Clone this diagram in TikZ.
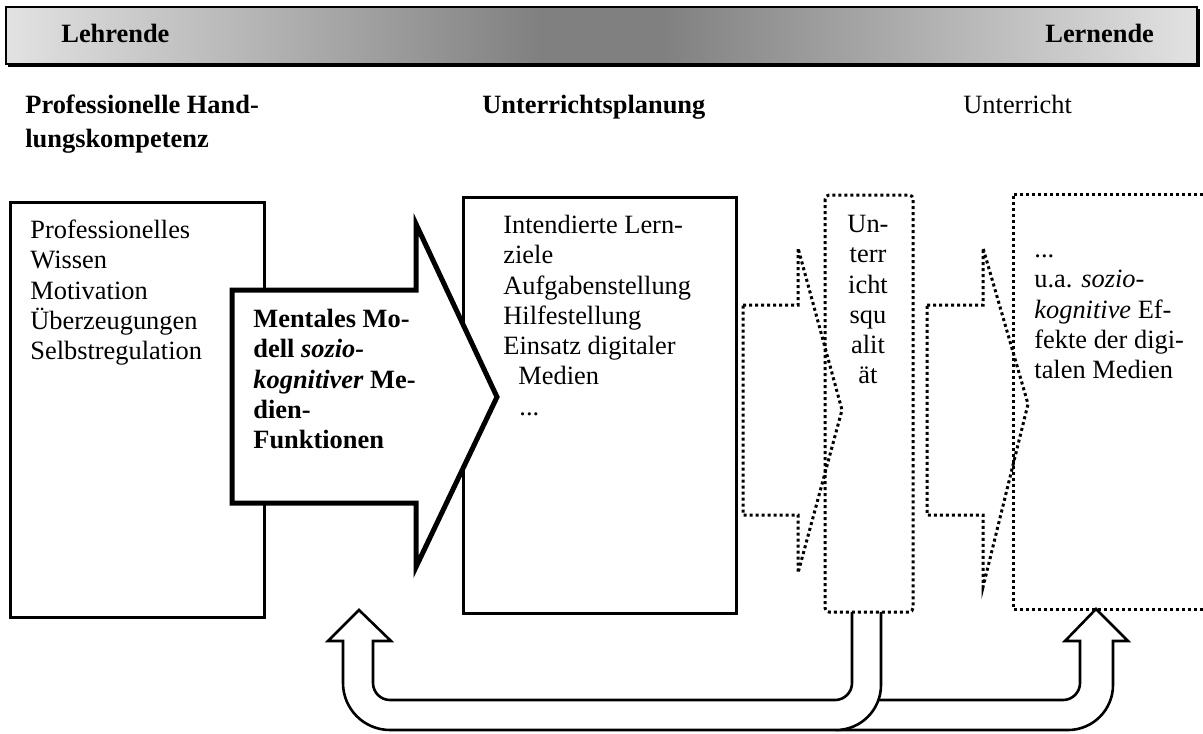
\documentclass[tikz,border=0pt]{standalone}
\usepackage{fontspec}
\setmainfont{Liberation Serif}
\newcommand{\fs}{\fontsize{13.2}{15.15}\selectfont}
\newcommand{\fsh}{\fontsize{13.2}{17}\selectfont}
\definecolor{baredge}{RGB}{226,226,226}
\definecolor{barmid}{RGB}{128,128,128}
\begin{document}
\begin{tikzpicture}[x=0.5pt,y=-0.5pt,
  txt/.style={inner sep=0pt, anchor=north west, align=left, font=\fs},
  solidbox/.style={draw, line width=1.5pt, fill=white},
  bigarrow/.style={draw, line width=2.5pt, fill=white, line join=miter},
  dotline/.style={line width=1.5pt, dash pattern=on 1.5pt off 1.5pt},
  uarrow/.style={draw, line width=1.3pt, fill=white, line join=miter}]
\useasboundingbox (0,0) rectangle (1203,733);

% top bar
\draw[line width=1.4pt] (8,65.5) -- (1198.5,65.5) -- (1198.5,9);
\shade[left color=baredge, right color=barmid] (6,7) rectangle (541,64);
\fill[barmid] (540,7) rectangle (661,64);
\shade[left color=barmid, right color=baredge] (660,7) rectangle (1197,64);
\draw[line width=0.9pt] (6,7) rectangle (1197,64);
\node[txt, font=\fs\bfseries] (lehrende) at (61,20.8) {\strut Lehrende};
\node[txt, font=\fs\bfseries] (lernende) at (1045,20.8) {\strut Lernende};

% headers
\node[txt, font=\fsh\bfseries] (hdrkomp) at (25,89.2) {\strut Professionelle Hand-\\lungskompetenz};
\node[txt, font=\fs\bfseries] (hdrplan) at (482,91.8) {\strut Unterrichtsplanung};
\node[txt] (hdrunt) at (963,91.8) {\strut Unterricht};

% solid boxes
\path[solidbox] (10,202) rectangle (264,617);
\path[solidbox] (463,197) rectangle (736,613);

% big arrow (mental model)
\path[bigarrow] (232,290) -- (416,290) -- (416,224) -- (497,397) -- (416,567) -- (416,503) -- (232,503) -- cycle;

% bottom U-arrows
\path[uarrow] (836,730) -- (1068,730) arc[start angle=90, end angle=0, radius=45]
  -- (1113,641) -- (1128,641) -- (1096,609) -- (1065,641) -- (1080,641)
  -- (1080,683) arc[start angle=0, end angle=90, radius=17] -- (870,700);
\path[uarrow] (881,612) -- (881,685) arc[start angle=0, end angle=90, radius=45]
  -- (390,730) arc[start angle=90, end angle=180, radius=47]
  -- (343,641) -- (328,641) -- (359,610) -- (391,641) -- (373,641)
  -- (373,683) arc[start angle=180, end angle=90, radius=17]
  -- (835,700) arc[start angle=90, end angle=0, radius=17] -- (852,612);

% dotted notched arrows
\draw[dotline] (743,305) -- (798,305) -- (798,248) -- (842,410) -- (798,573) -- (798,515) -- (743,515) -- cycle;
\draw[dotline] (927,305) -- (983,305) -- (983,248) -- (1028,404) -- (983,587) -- (983,515) -- (927,515) -- cycle;

% dotted boxes
\draw[dotline, rounded corners=2pt] (825,195) rectangle (913,612);
\draw[dotline] (1203,194) -- (1013,194) -- (1013,609) -- (1203,609);

% texts
\node[txt] (komptext) at (30,216.8) {\strut Professionelles\\Wissen\\Motivation\\Überzeugungen\\Selbstregulation};
\node[txt, font=\fs\bfseries] (modelltext) at (253,305.8) {\strut Mentales Mo-\\dell \textit{sozio-}\\\textit{kognitiver} Me-\\dien-\\Funktionen};
\node[txt] (plantext) at (503,211.8) {\strut Intendierte Lern-\\ziele\\Aufgabenstellung\\Hilfestellung\\Einsatz digitaler\\\hspace*{7.5pt}Medien\\\hspace*{8pt}...};
\node[txt, anchor=north, align=center] (uqtext) at (868,210.8) {\strut Un-\\terr\\icht\\squ\\alit\\ät};
\node[txt] (efftext) at (1034,236) {\strut ...\\u.a. \textit{sozio-}\\\textit{kognitive} Ef-\\fekte der digi-\\talen Medien};
\end{tikzpicture}
\end{document}
